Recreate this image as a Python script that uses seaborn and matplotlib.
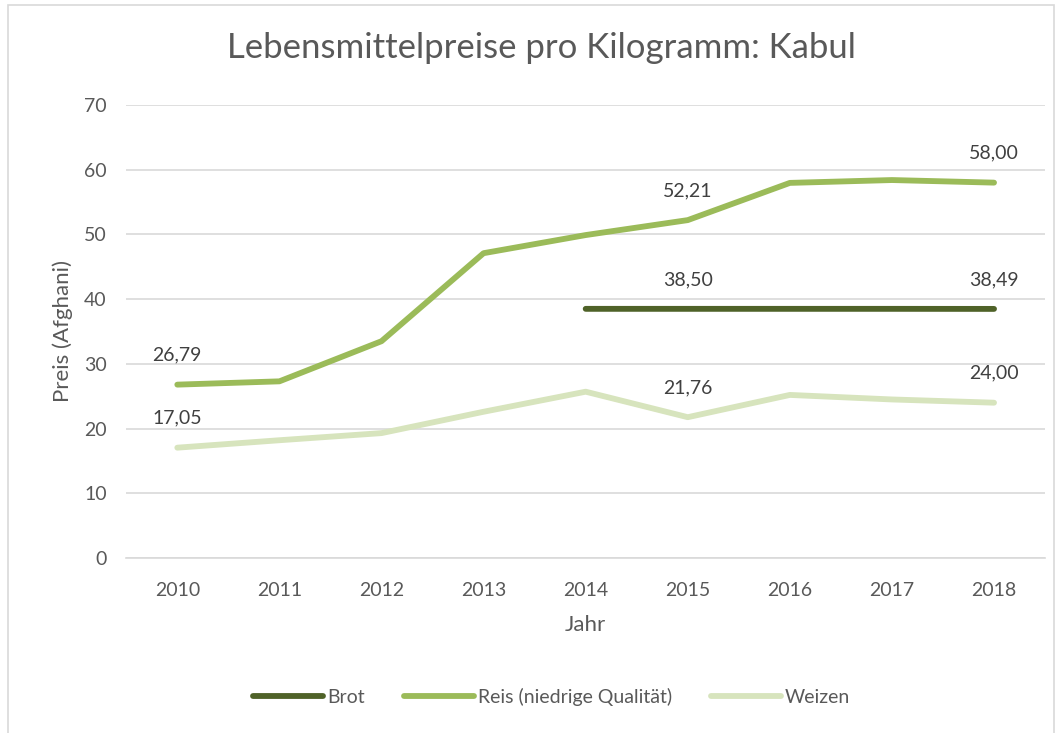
import pandas as pd
import numpy as np
import matplotlib
matplotlib.use("Agg")
import matplotlib.pyplot as plt
import seaborn as sns

# Data
jahre = [2010, 2011, 2012, 2013, 2014, 2015, 2016, 2017, 2018]
brot = [np.nan, np.nan, np.nan, np.nan, 38.50, 38.50, 38.50, 38.50, 38.49]
reis = [26.79, 27.3, 33.5, 47.1, 49.9, 52.21, 57.96, 58.4, 58.00]
weizen = [17.05, 18.2, 19.3, 22.6, 25.7, 21.76, 25.2, 24.5, 24.00]
produkte = ["Brot", "Reis (niedrige Qualität)", "Weizen"]
farben = ["#4F6228", "#9BBB59", "#D7E4BD"]

# which points get a value label
label_jahre = {
    "Brot": [2015, 2018],
    "Reis (niedrige Qualität)": [2010, 2015, 2018],
    "Weizen": [2010, 2015, 2018],
}

df = pd.DataFrame({"Jahr": jahre, "Brot": brot,
                   "Reis (niedrige Qualität)": reis, "Weizen": weizen})
long = df.melt(id_vars="Jahr", var_name="Produkt", value_name="Preis").dropna()

sns.set_style("white")
plt.rcParams["font.family"] = ["Lato", "DejaVu Sans"]
txt = "#595959"

fig = plt.figure(figsize=(10.61, 7.33), dpi=100)
ax = fig.add_axes([0.119, 0.2387, 0.866, 0.6181])

sns.lineplot(data=long, x="Jahr", y="Preis", hue="Produkt", hue_order=produkte,
             palette=farben, linewidth=4.2, ax=ax, legend=False,
             solid_capstyle="round")

# value labels
for prod in produkte:
    for j, v in zip(df["Jahr"], df[prod]):
        if j in label_jahre[prod]:
            ax.annotate(f"{v:.2f}".replace(".", ","), (j, v), xytext=(0, 15),
                        textcoords="offset points", ha="center", va="bottom",
                        fontsize=14, color="#404040")

ax.set_xlim(2009.5, 2018.5)
ax.set_ylim(0, 70)
ax.set_xticks(jahre)
ax.set_yticks(range(0, 71, 10))
ax.tick_params(axis="x", labelsize=14, colors=txt, length=0, pad=17)
ax.tick_params(axis="y", labelsize=14, colors=txt, length=0, pad=14)
ax.yaxis.grid(True, color="#D9D9D9", linewidth=1.2)
ax.set_axisbelow(True)
for s in ["top", "right", "left"]:
    ax.spines[s].set_visible(False)
ax.spines["bottom"].set_color("#D9D9D9")
ax.spines["bottom"].set_linewidth(1.2)

ax.set_xlabel("Jahr", fontsize=16, color=txt, labelpad=12)
ax.set_ylabel("Preis (Afghani)", fontsize=16, color=txt, labelpad=8)
fig.text(0.51, 0.935, "Lebensmittelpreise pro Kilogramm: Kabul",
         ha="center", va="center", fontsize=25, color=txt)

# legend below the plot
handles = [plt.Line2D([], [], color=c, linewidth=4.2, solid_capstyle="round")
           for c in farben]
fig.legend(handles, produkte, loc="center", bbox_to_anchor=(0.52, 0.049),
           ncol=3, frameon=False, fontsize=14, labelcolor=txt,
           handlelength=3.6, handletextpad=0.2, columnspacing=2.0)

# chart border
fig.patches.append(plt.Rectangle((0.008, -0.01), 0.985, 1.003,
                                 transform=fig.transFigure, fill=False,
                                 edgecolor="#D9D9D9", linewidth=1.2))

fig.savefig("out.png", dpi=100, facecolor="white")
